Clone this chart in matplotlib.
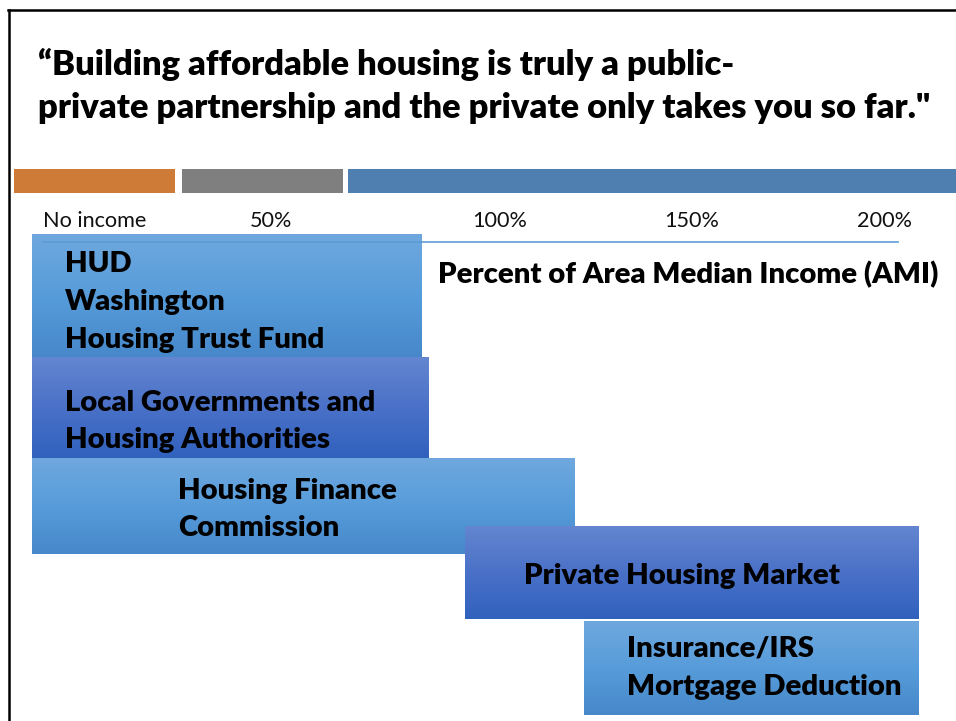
import numpy as np
import matplotlib
matplotlib.use("Agg")
import matplotlib.pyplot as plt
from matplotlib.colors import LinearSegmentedColormap
from matplotlib.patches import Rectangle
from matplotlib.lines import Line2D

plt.rcParams['font.family'] = ['Lato', 'DejaVu Sans']

# ---------------- data ----------------
title_lines = ["\u201cBuilding affordable housing is truly a public-",
               "private partnership and the private only takes you so far.\""]
tick_labels = ["No income", "50%", "100%", "150%", "200%"]
axis_title = "Percent of Area Median Income (AMI)"
programs = [["HUD", "Washington", "Housing Trust Fund"],
            ["Local Governments and", "Housing Authorities"],
            ["Housing Finance", "Commission"],
            ["Private Housing Market"],
            ["Insurance/IRS", "Mortgage Deduction"]]
ami_start = [-22, -22, -22, 91, 122]     # percent of AMI (slide scale)
ami_end = [79.5, 81.3, 119.3, 209, 209]

# ---------------- layout ----------------
W, H = 956, 721
PX0, PX_PER_PCT = 116.0, 3.84            # slide scale: pixel of 0% and px per %


def px2x(px):
    return (px - PX0) / PX_PER_PCT


tick_px = [94.5, 271, 500, 692, 884]
box_rows = [(234, 357), (357, 458), (458, 554), (526, 619), (621, 715)]
box_style = ["light", "dark", "light", "dark", "light"]
text_px = [65, 65, 178, 524, 627]
text_lines_y = [[264, 302, 340], [403, 440], [491, 528], [576], [648, 687]]

gradients = {
    "light": LinearSegmentedColormap.from_list("l", ["#6FA8DE", "#579CDA", "#4688CA"]),
    "dark": LinearSegmentedColormap.from_list("d", ["#6486D0", "#4A71C8", "#3061BD"]),
}
WEIGHT = 800

fig = plt.figure(figsize=(W / 100, H / 100), dpi=100)
ax = fig.add_axes([0, 0, 1, 1])
ax.set_xlim(px2x(0), px2x(W))
ax.set_ylim(H, 0)
ax.axis('off')
renderer = fig.canvas.get_renderer()


def fx(px):
    return px / W


def fy(py):
    return 1 - py / H


def fit(texts, target_px):
    w = max(t.get_window_extent(renderer).width for t in texts)
    s = target_px / w
    for t in texts:
        t.set_fontsize(t.get_fontsize() * s)


# slide border
fig.add_artist(Line2D([fx(9), fx(9)], [fy(10), fy(H)], color='black', lw=1.8))
fig.add_artist(Line2D([fx(8), fx(W)], [fy(10), fy(10)], color='black', lw=1.8))

# title
tt = [fig.text(fx(38), fy(y), s, fontsize=20, fontweight=WEIGHT, color='black',
               ha='left', va='baseline') for s, y in zip(title_lines, [75, 118])]
fit([tt[1]], 892)
tt[0].set_fontsize(tt[1].get_fontsize())

# decorative colour strip
for (x0, x1), c in zip([(14, 175), (182, 343), (348, W)], ["#CD7B37", "#7F7F7F", "#4F7FB0"]):
    fig.add_artist(Rectangle((fx(x0), fy(193)), fx(x1) - fx(x0), fy(169) - fy(193),
                             facecolor=c, edgecolor='none', transform=fig.transFigure))

# tick labels
tks = [ax.text(px2x(p), 221, s, ha='center', va='center', fontsize=13, color='#111111')
       for p, s in zip(tick_px, tick_labels)]
fit([tks[0]], 103)
for t in tks[1:]:
    t.set_fontsize(tks[0].get_fontsize())

# axis line
ax.plot([px2x(43), px2x(898)], [242, 242], color='#5B9BD5', lw=1.3, zorder=20, alpha=0.9)

# axis title
at = ax.text(px2x(438), 275, axis_title, ha='left', va='center', fontsize=16,
             fontweight=WEIGHT, color='black', zorder=30)
fit([at], 500)

# boxes
grad = np.linspace(0, 1, 256).reshape(-1, 1)
box_texts = []
for i, (s, e) in enumerate(zip(ami_start, ami_end)):
    top, bot = box_rows[i]
    z = 2 + i * 2
    ax.imshow(grad, cmap=gradients[box_style[i]], aspect='auto', origin='upper',
              extent=(s, e, bot, top), zorder=z, interpolation='bilinear')
    for line, y in zip(programs[i], text_lines_y[i]):
        box_texts.append(ax.text(px2x(text_px[i]), y, line, ha='left', va='center',
                                 fontsize=16, fontweight=WEIGHT, color='black',
                                 zorder=z + 1))
ref = [t for t in box_texts if t.get_text() == "Local Governments and"]
fit(ref, 310)
for t in box_texts:
    t.set_fontsize(ref[0].get_fontsize())

fig.savefig("out.png", dpi=100)
